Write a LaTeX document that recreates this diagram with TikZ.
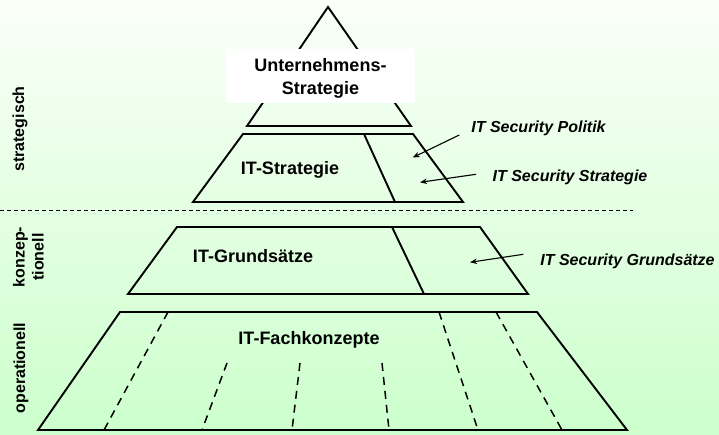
\documentclass[tikz,border=0pt]{standalone}
\usepackage{fontspec}
\setmainfont{Liberation Sans}
\usetikzlibrary{arrows.meta}
\definecolor{bgtop}{RGB}{250,255,248}
\definecolor{bgbot}{RGB}{204,255,204}
\begin{document}
\begin{tikzpicture}[x=1pt,y=-1pt,
  frame/.style={line width=1.9pt, line join=miter},
  lbl/.style={font=\bfseries\fontsize{18}{23}\selectfont, anchor=base, inner sep=0pt},
  sec/.style={font=\bfseries\itshape\fontsize{16}{19}\selectfont, anchor=base, inner sep=0pt},
  side/.style={font=\bfseries\fontsize{16}{19}\selectfont, rotate=90, align=center, inner sep=0pt},
  arr/.style={line width=1.1pt, -{Stealth[length=7pt,width=5.5pt]}},
  part/.style={line width=1.5pt, dash pattern=on 8pt off 6pt},
  level/.style={line width=0.7pt, dash pattern=on 4pt off 3pt}]
\shade[top color=bgtop, bottom color=bgbot] (0,0) rectangle (719,434);
\useasboundingbox (0,0) rectangle (719,434);

% top triangle
\draw[frame] (328,7) -- (411,126) -- (247,126) -- cycle;
\node[fill=white, minimum width=189pt, minimum height=54pt, inner sep=0pt] (ubox) at (320.5,76) {};
\node[lbl, anchor=center, align=center] (ut) at (320.5,78.5) {Unternehmens-\\Strategie};

% IT-Strategie
\draw[frame] (243,134) -- (413,134) -- (463,202) -- (193,202) -- cycle;
\draw[frame] (364,134) -- (395,202);
\node[lbl] (its) at (290,174) {IT-Strategie};

% level separator
\draw[level] (0,210) -- (633,210);

% IT-Grundsaetze
\draw[frame] (177,227) -- (480,227) -- (528,294) -- (128,294) -- cycle;
\draw[frame] (392,227) -- (424,294);
\node[lbl] (itg) at (253,262) {IT-Grundsätze};

% IT-Fachkonzepte
\draw[frame] (120,312) -- (537,312) -- (627,430) -- (38,430) -- cycle;
\node[lbl] (itf) at (309,344) {IT-Fachkonzepte};
\draw[part] (168,312) -- (104,430);
\draw[part] (227,363) -- (202,430);
\draw[part] (300,363) -- (292,430);
\draw[part] (382,363) -- (389,430);
\draw[part] (439,312) -- (478,430);
\draw[part] (496,312) -- (562,430);

% security labels
\node[sec] (sp) at (538.5,132.5) {IT Security Politik};
\node[sec] (ss) at (570,181.5) {IT Security Strategie};
\node[sec] (sg) at (627.5,265.5) {IT Security Grundsätze};
\coordinate (sp0) at (459.3,135);
\coordinate (sp1) at (412.7,157.5);
\coordinate (ss0) at (476,174.3);
\coordinate (ss1) at (420,182.3);
\coordinate (sg0) at (523.3,254.3);
\coordinate (sg1) at (470,262.3);
\draw[arr] (sp0) -- (sp1);
\draw[arr] (ss0) -- (ss1);
\draw[arr] (sg0) -- (sg1);

% side labels
\node[side] (lst) at (20,129) {strategisch};
\node[side] (lko) at (28.5,257) {konzep-\\tionell};
\node[side] (lop) at (21,368) {operationell};
\end{tikzpicture}
\end{document}
